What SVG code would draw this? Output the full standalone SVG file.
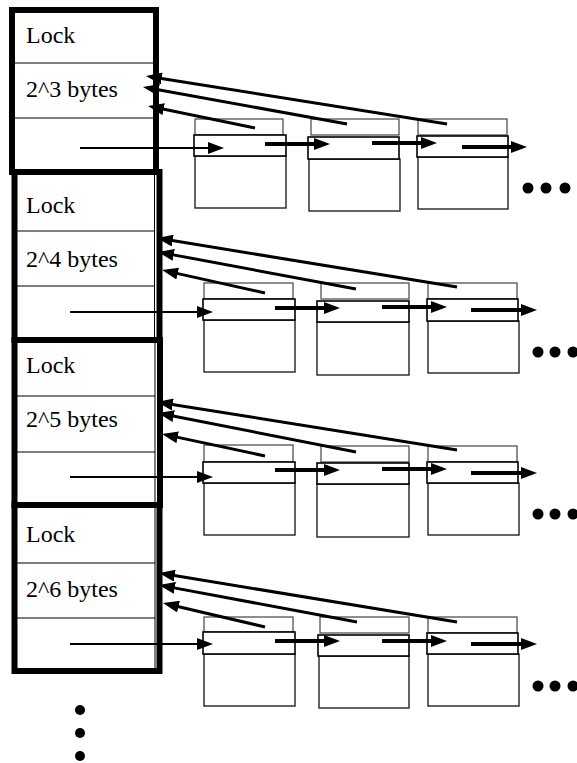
<svg xmlns="http://www.w3.org/2000/svg" width="577" height="763" viewBox="0 0 577 763">
<defs>
<marker id="ah" viewBox="0 -6 16 12" refX="2" refY="0" markerWidth="16" markerHeight="12" markerUnits="userSpaceOnUse" orient="auto">
<path d="M0,-6 L16,0 L0,6 z" fill="#000"/>
</marker>
</defs>
<style>
.col{fill:none;stroke:#000;stroke-width:6;stroke-linejoin:miter}
.div{stroke:#000;stroke-width:1.2}
.thin{stroke:#000;stroke-width:1}
.lbl{font-family:"Liberation Serif","Times New Roman",serif;font-size:24px;fill:#000}
.top{fill:#fff;stroke:#444;stroke-width:1.2}
.mid{fill:#fff;stroke:#000;stroke-width:1.6}
.bot{fill:#fff;stroke:#222;stroke-width:1.4}
.a1{stroke:#000;stroke-width:2;fill:none;marker-end:url(#ah)}
.a3{stroke:#000;stroke-width:3;fill:none;marker-end:url(#ah)}
.a4{stroke:#000;stroke-width:4;fill:none;marker-end:url(#ah)}
.dot{fill:#000}
</style>
<rect width="577" height="763" fill="#fff"/>

<g id="bucket8">
<rect class="col" x="12" y="10" width="144" height="162"/>
<line class="div" x1="12" y1="63" x2="156" y2="63"/>
<line class="div" x1="12" y1="118" x2="156" y2="118"/>
<text class="lbl" x="26" y="43">Lock</text>
<text class="lbl" x="26" y="97">2^3 bytes</text>
</g>
<g id="bucket16">
<rect class="col" x="14.5" y="172" width="145" height="168"/>
<line class="thin" x1="154.5" y1="172" x2="154.5" y2="340"/>
<line class="div" x1="14.5" y1="231" x2="154.5" y2="231"/>
<line class="div" x1="14.5" y1="286" x2="154.5" y2="286"/>
<text class="lbl" x="26" y="213">Lock</text>
<text class="lbl" x="26" y="267">2^4 bytes</text>
</g>
<g id="bucket32">
<rect class="col" x="14.5" y="340" width="145.5" height="165"/>
<line class="thin" x1="155" y1="340" x2="155" y2="505"/>
<line class="div" x1="14.5" y1="396" x2="155" y2="396"/>
<line class="div" x1="14.5" y1="452" x2="155" y2="452"/>
<text class="lbl" x="26" y="373">Lock</text>
<text class="lbl" x="26" y="427">2^5 bytes</text>
</g>
<g id="bucket64">
<rect class="col" x="14.5" y="505" width="145" height="166"/>
<line class="thin" x1="155" y1="505" x2="155" y2="671"/>
<line class="div" x1="14.5" y1="563" x2="155" y2="563"/>
<line class="div" x1="14.5" y1="618" x2="155" y2="618"/>
<text class="lbl" x="26" y="542">Lock</text>
<text class="lbl" x="26" y="597">2^6 bytes</text>
</g>
<g id="more-buckets">
<circle class="dot" cx="80" cy="710" r="5"/>
<circle class="dot" cx="80" cy="733" r="5"/>
<circle class="dot" cx="80" cy="756" r="5"/>
</g>

<g id="g1n1"><rect class="top" x="195" y="119" width="88" height="16"/><rect class="bot" x="195" y="156" width="91" height="52"/><rect class="mid" x="194" y="135" width="92" height="21"/></g>
<g id="g1n2"><rect class="top" x="311" y="119" width="88" height="16"/><rect class="bot" x="309" y="159" width="91" height="52"/><rect class="mid" x="308" y="137" width="91" height="22"/></g>
<g id="g1n3"><rect class="top" x="418" y="119" width="89" height="16"/><rect class="bot" x="418" y="157" width="90" height="52"/><rect class="mid" x="417" y="136" width="91" height="21"/></g>
<g id="g1more"><circle class="dot" cx="528" cy="188" r="5.5"/><circle class="dot" cx="546" cy="188" r="5.5"/><circle class="dot" cx="565" cy="188" r="5.5"/></g>

<g id="g2n1"><rect class="top" x="204" y="283" width="89" height="16"/><rect class="bot" x="204" y="320" width="91" height="52"/><rect class="mid" x="203" y="299" width="92" height="21"/></g>
<g id="g2n2"><rect class="top" x="321" y="283" width="88" height="16"/><rect class="bot" x="317" y="322" width="92" height="53"/><rect class="mid" x="317" y="301" width="92" height="21"/></g>
<g id="g2n3"><rect class="top" x="428" y="283" width="89" height="16"/><rect class="bot" x="428" y="321" width="91" height="52"/><rect class="mid" x="427" y="299" width="91" height="22"/></g>
<g id="g2more"><circle class="dot" cx="538" cy="352" r="5.5"/><circle class="dot" cx="555" cy="352" r="5.5"/><circle class="dot" cx="573" cy="352" r="5.5"/></g>

<g id="g3n1"><rect class="top" x="204" y="445" width="89" height="17"/><rect class="bot" x="204" y="483" width="91" height="52"/><rect class="mid" x="203" y="462" width="92" height="21"/></g>
<g id="g3n2"><rect class="top" x="321" y="446" width="88" height="16"/><rect class="bot" x="317" y="484" width="92" height="53"/><rect class="mid" x="317" y="463" width="92" height="21"/></g>
<g id="g3n3"><rect class="top" x="428" y="446" width="89" height="16"/><rect class="bot" x="428" y="483" width="91" height="52"/><rect class="mid" x="427" y="462" width="91" height="21"/></g>
<g id="g3more"><circle class="dot" cx="538" cy="514" r="5.5"/><circle class="dot" cx="555" cy="514" r="5.5"/><circle class="dot" cx="573" cy="514" r="5.5"/></g>

<g id="g4n1"><rect class="top" x="204" y="617" width="89" height="15"/><rect class="bot" x="204" y="654" width="91" height="52"/><rect class="mid" x="203" y="632" width="92" height="22"/></g>
<g id="g4n2"><rect class="top" x="320" y="617" width="89" height="16"/><rect class="bot" x="319" y="656" width="90" height="52"/><rect class="mid" x="318" y="635" width="91" height="21"/></g>
<g id="g4n3"><rect class="top" x="428" y="617" width="89" height="16"/><rect class="bot" x="428" y="654" width="91" height="52"/><rect class="mid" x="427" y="633" width="91" height="21"/></g>
<g id="g4more"><circle class="dot" cx="538" cy="686" r="5.5"/><circle class="dot" cx="555" cy="686" r="5.5"/><circle class="dot" cx="573" cy="686" r="5.5"/></g>

<g id="connectors">
<line class="a1" x1="80" y1="148" x2="210" y2="148"/>
<line class="a4" x1="265" y1="144" x2="316" y2="144"/>
<line class="a4" x1="372" y1="143" x2="423" y2="143"/>
<line class="a4" x1="462" y1="147" x2="513" y2="147"/>
<line class="a3" x1="447" y1="124" x2="159.8" y2="78.2"/>
<line class="a3" x1="347" y1="124" x2="156.8" y2="89.5"/>
<line class="a3" x1="255" y1="128" x2="161.7" y2="108.8"/>

<line class="a1" x1="70" y1="312" x2="199" y2="312"/>
<line class="a4" x1="275" y1="308" x2="326" y2="308"/>
<line class="a4" x1="382" y1="307" x2="433" y2="307"/>
<line class="a4" x1="471" y1="310" x2="523" y2="310"/>
<line class="a3" x1="457" y1="287" x2="170.8" y2="240.3"/>
<line class="a3" x1="356" y1="289" x2="171.8" y2="254.6"/>
<line class="a3" x1="265" y1="293" x2="175.7" y2="273.1"/>

<line class="a1" x1="70" y1="477" x2="199" y2="477"/>
<line class="a4" x1="275" y1="470" x2="326" y2="470"/>
<line class="a4" x1="382" y1="469" x2="433" y2="469"/>
<line class="a4" x1="471" y1="473" x2="523" y2="473"/>
<line class="a3" x1="457" y1="450" x2="170.8" y2="404.2"/>
<line class="a3" x1="356" y1="452" x2="171.7" y2="415.7"/>
<line class="a3" x1="265" y1="456" x2="175.7" y2="436.9"/>

<line class="a1" x1="70" y1="644" x2="199" y2="644"/>
<line class="a4" x1="275" y1="641" x2="326" y2="641"/>
<line class="a4" x1="382" y1="641" x2="433" y2="641"/>
<line class="a4" x1="471" y1="644" x2="523" y2="644"/>
<line class="a3" x1="457" y1="622" x2="172.8" y2="575.3"/>
<line class="a3" x1="357" y1="622" x2="172.8" y2="587.6"/>
<line class="a3" x1="265" y1="627" x2="176.6" y2="606.2"/>
</g>
</svg>
